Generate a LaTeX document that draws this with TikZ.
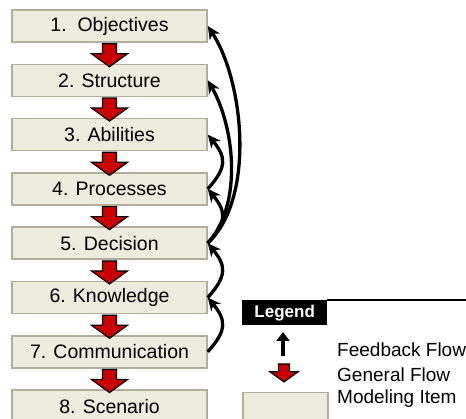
\documentclass[tikz,border=0pt]{standalone}
\usepackage{fontspec}
\setmainfont{Liberation Sans}
\usetikzlibrary{arrows.meta}
\definecolor{boxfill}{RGB}{237,235,221}
\definecolor{boxline}{RGB}{178,174,158}
\definecolor{flowred}{RGB}{200,0,0}
\tikzset{
  item/.style={draw=boxline, line width=1.5pt, fill=boxfill, minimum width=195pt, minimum height=32pt, inner sep=0pt, font=\fontsize{19.5}{22}\selectfont},
  fb/.style={line width=3.3pt, -{Stealth[length=13pt,width=12pt,inset=4pt]}},
  genflow/.pic={\draw[fill=flowred, line width=1.2pt, line join=miter] (-7,0) -- (7,0) -- (7,10) -- (18,10) -- (0,23) -- (-18,10) -- (-7,10) -- cycle;},
  legtext/.style={anchor=west, inner sep=0pt, font=\fontsize{19}{22}\selectfont}
}
\begin{document}
\begin{tikzpicture}[x=1pt,y=-1pt]
\useasboundingbox (0,0) rectangle (466,419);
\node[item] (b1) at (109.5,26) {1.\ \ Objectives};
\node[item] (b2) at (109.5,80.3) {2. Structure};
\node[item] (b3) at (109.5,134.6) {3. Abilities};
\node[item] (b4) at (109.5,188.9) {4. Processes};
\node[item] (b5) at (109.5,243.2) {5. Decision};
\node[item] (b6) at (109.5,297.5) {6. Knowledge};
\node[item] (b7) at (109.5,351.8) {7. Communication};
\node[item] (b8) at (109.5,406.1) {8. Scenario};
\foreach \i in {1,...,7} {
  \pic at ([yshift=-1pt]b\i.south) {genflow};
}
% feedback flows
\draw[fb] (b5.east) .. controls +(48,-45) and +(36,55) .. (b1.east);
\draw[fb] (b5.east) .. controls +(36,-40) and +(26,45) .. (b2.east);
\draw[fb] (b5.east) .. controls +(20,-22) and +(18,22) .. (b4.east);
\draw[fb] (b4.east) .. controls +(20,-22) and +(18,22) .. (b3.east);
\draw[fb] (b6.east) .. controls +(20,-22) and +(18,22) .. (b5.east);
\draw[fb] (b7.east) .. controls +(20,-22) and +(18,22) .. (b6.east);
% legend
\node[fill=black, text=white, font=\fontsize{17}{20}\selectfont\bfseries, minimum width=85pt, minimum height=25pt, inner sep=0pt, anchor=north west] (leg) at (242,300) {Legend};
\coordinate (legend end) at (466,300);
\draw[line width=2pt] (leg.north east) -- (legend end);
\coordinate (fbs) at (283,356);
\coordinate (fbe) at (283,332);
\draw[line width=3.5pt, -{Triangle[length=9pt,width=13pt]}] (fbs) -- (fbe);
\pic[scale=0.78] at (284,364) {genflow};
\node[draw=boxline, line width=1.5pt, fill=boxfill, minimum width=85pt, minimum height=32pt, inner sep=0pt, anchor=north west] (legbox) at (242,392) {};
\node[legtext] (t1) at (337,350) {Feedback Flow};
\node[legtext] (t2) at (337,375) {General Flow};
\node[legtext] (t3) at (337,399) {Modeling Item};
\end{tikzpicture}
\end{document}
